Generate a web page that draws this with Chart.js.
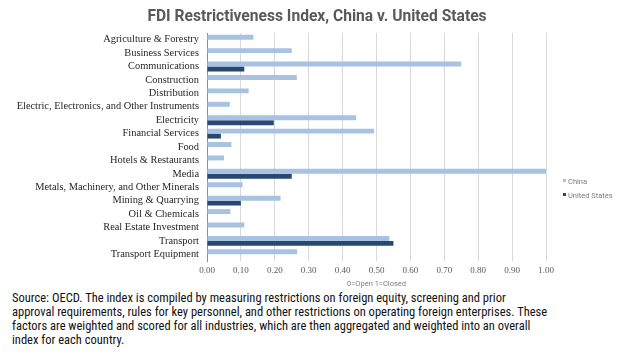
<!DOCTYPE html>
<html>
<head>
<meta charset="utf-8">
<script src="https://cdn.jsdelivr.net/npm/chart.js@4.4.1/dist/chart.umd.min.js"></script>
<style>
  html, body { margin: 0; padding: 0; background: #fff; }
  body { width: 626px; height: 354px; position: relative; overflow: hidden; }
  #wrap { position: absolute; left: 0; top: 0; width: 626px; height: 290px; }
  .title { position: absolute; left: 0; top: 7px; width: 634px; text-align: center; font: bold 15.6px Roboto, Arial, sans-serif; color: #595959; }
  .legend { position: absolute; left: 563px; font: 7.5px Roboto, Arial, sans-serif; color: #7f7f7f; }
  .legend i { display: inline-block; width: 3px; height: 3px; margin-right: 2px; vertical-align: 2px; }
  .note { position: absolute; left: 12px; top: 291px; width: 610px; font: 12.5px "Roboto Condensed", "DejaVu Sans Condensed", Arial, sans-serif; line-height: 14px; color: #111; }
</style>
</head>
<body>
<div id="wrap"><canvas id="chart"></canvas></div>
<div class="title">FDI Restrictiveness Index, China v. United States</div>
<div class="legend" style="top:177px"><i style="background:#a8c2e2"></i>China</div>
<div class="legend" style="top:191px"><i style="background:#284870"></i>United States</div>
<div class="note">Source: OECD. The index is compiled by measuring restrictions on foreign equity, screening and prior<br>approval requirements, rules for key personnel, and other restrictions on operating foreign enterprises. These<br>factors are weighted and scored for all industries, which are then aggregated and weighted into an overall<br>index for each country.</div>
<script>
const sectors = [
    'Agriculture & Forestry', 'Business Services', 'Communications', 'Construction', 'Distribution',
    'Electric, Electronics, and Other Instruments', 'Electricity', 'Financial Services', 'Food',
    'Hotels & Restaurants', 'Media', 'Metals, Machinery, and Other Minerals', 'Mining & Quarrying',
    'Oil & Chemicals', 'Real Estate Investment', 'Transport', 'Transport Equipment',
];
const china = [0.137, 0.250, 0.750, 0.265, 0.123, 0.067, 0.440, 0.493, 0.072, 0.050, 1.000, 0.105, 0.217, 0.069, 0.110, 0.538, 0.266];
const unitedStates = [0, 0, 0.110, 0, 0, 0, 0.197, 0.041, 0, 0, 0.250, 0, 0.100, 0, 0, 0.550, 0];
const xTicks = [0, 0.1, 0.2, 0.3, 0.4, 0.5, 0.6, 0.7, 0.8, 0.9, 1.0];

const serif = '"Liberation Serif", "Times New Roman", serif';

new Chart(document.getElementById('chart'), {
    type: 'bar',
    data: {
        labels: sectors,
        datasets: [
            { label: 'China', data: china, backgroundColor: '#a8c2e2' },
            { label: 'United States', data: unitedStates, backgroundColor: '#284870' },
        ],
    },
    options: {
        indexAxis: 'y',
        responsive: true,
        maintainAspectRatio: false,
        animation: false,
        categoryPercentage: 0.74,
        barPercentage: 1,
        layout: { padding: { left: 0, right: 80, top: 33, bottom: 0 } },
        plugins: {
            legend: { display: false },
            tooltip: { enabled: false },
        },
        scales: {
            x: {
                min: 0,
                max: 1,
                afterBuildTicks: (scale) => { scale.ticks = xTicks.map((v) => ({ value: v })); },
                afterFit: (scale) => { scale.height = 29; },
                grid: { color: '#d9d9d9', drawTicks: false },
                border: { display: false },
                ticks: {
                    color: '#595959',
                    padding: 4,
                    font: { family: serif, size: 9 },
                    callback: (v) => Number(v).toFixed(2),
                },
                title: {
                    display: true,
                    text: '0=Open 1=Closed',
                    color: '#7f7f7f',
                    font: { family: 'Roboto, Arial, sans-serif', size: 7.5 },
                    padding: { top: 0, bottom: 1 },
                },
            },
            y: {
                afterFit: (scale) => { scale.width = 207; },
                grid: { display: false, drawTicks: false },
                border: { display: true, color: '#8c8c8c' },
                ticks: {
                    color: '#262626',
                    padding: 8,
                    autoSkip: false,
                    font: { family: serif, size: 10.4 },
                },
            },
        },
    },
});
</script>
</body>
</html>
